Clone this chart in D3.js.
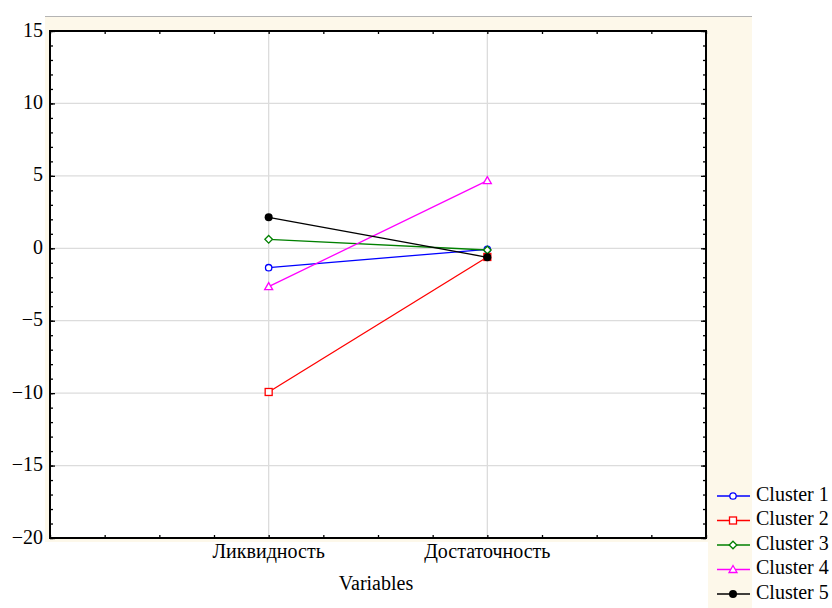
<!DOCTYPE html>
<html>
<head>
<meta charset="utf-8">
<script src="https://cdn.jsdelivr.net/npm/d3@7.9.0/dist/d3.min.js"></script>
<style>
  body { margin: 0; background: #fff; }
  svg { display: block; font-family: "Liberation Serif", "Times New Roman", serif; }
</style>
</head>
<body>
<svg id="chart" width="832" height="608"></svg>
<script>
// chart data
const variables = ['Ликвидность', 'Достаточность'];
const clusterNames = ['Cluster 1', 'Cluster 2', 'Cluster 3', 'Cluster 4', 'Cluster 5'];
const cluster1 = [-1.34, -0.07];
const cluster2 = [-9.92, -0.6];
const cluster3 = [0.62, -0.12];
const cluster4 = [-2.65, 4.67];
const cluster5 = [2.14, -0.62];
const yTicks = [-20, -15, -10, -5, 0, 5, 10, 15];

const series = [cluster1, cluster2, cluster3, cluster4, cluster5];
const colors = ['#0000ff', '#ff0000', '#008000', '#ff00ff', '#000000'];
const shapes = ['circle', 'square', 'diamond', 'triangle', 'dot'];

const svg = d3.select('#chart');
const plotL = 50, plotR = 706, plotT = 31, plotB = 538;

// cream panel behind the plot + legend column
svg.append('rect').attr('x', 45).attr('y', 17).attr('width', 707).attr('height', 525).attr('fill', '#fdf8ea');
svg.append('rect').attr('x', 708).attr('y', 17).attr('width', 44).attr('height', 591).attr('fill', '#fdf8ea');
svg.append('line').attr('x1', 45).attr('x2', 752).attr('y1', 16.5).attr('y2', 16.5)
  .attr('stroke', '#b4b4b4').attr('stroke-width', 1);
svg.append('rect').attr('x', plotL).attr('y', plotT).attr('width', plotR - plotL).attr('height', plotB - plotT).attr('fill', '#fff');

// scales: categories sit at 1 and 2 on a 0..3 axis
const x = d3.scaleLinear().domain([0, 3]).range([plotL, plotR]);
const y = d3.scaleLinear().domain([-20, 15]).range([plotB, plotT]);

// grid
const grid = svg.append('g').attr('stroke', '#dcdcdc').attr('stroke-width', 1.3);
grid.selectAll('.gy').data(yTicks.slice(1, -1)).join('line')
  .attr('x1', plotL).attr('x2', plotR).attr('y1', d => y(d)).attr('y2', d => y(d));
grid.selectAll('.gx').data([1, 2]).join('line')
  .attr('y1', plotT).attr('y2', plotB).attr('x1', d => x(d)).attr('x2', d => x(d));

// axes with inward ticks
const minorY = d3.range(-20, 16, 1);
const minorX = d3.range(0, 3.01, 0.25);

function styleAxis(g) {
  g.select('.domain').remove();
  g.selectAll('line').attr('stroke', '#000').attr('stroke-width', 1.3);
}

svg.append('g').attr('transform', `translate(${plotL},0)`)
  .call(d3.axisLeft(y).tickValues(minorY).tickSize(-3).tickFormat(''))
  .call(styleAxis);
svg.append('g').attr('transform', `translate(${plotR},0)`)
  .call(d3.axisRight(y).tickValues(minorY).tickSize(-3).tickFormat(''))
  .call(styleAxis);
svg.append('g').attr('transform', `translate(${plotL},0)`)
  .call(d3.axisLeft(y).tickValues(yTicks).tickSize(-5).tickPadding(7))
  .call(styleAxis)
  .call(g => g.attr('font-family', null))
  .call(g => g.selectAll('text').attr('font-size', 20).attr('fill', '#000').attr('dy', '0.25em'));
svg.append('g').attr('transform', `translate(${plotR},0)`)
  .call(d3.axisRight(y).tickValues(yTicks).tickSize(-5).tickFormat(''))
  .call(styleAxis);
svg.append('g').attr('transform', `translate(0,${plotT})`)
  .call(d3.axisTop(x).tickValues(minorX).tickSize(-3).tickFormat(''))
  .call(styleAxis);
svg.append('g').attr('transform', `translate(0,${plotB})`)
  .call(d3.axisBottom(x).tickValues(minorX).tickSize(-3).tickFormat(''))
  .call(styleAxis);

// category labels
svg.append('g').selectAll('text').data(variables).join('text')
  .attr('x', (d, i) => x(i + 1)).attr('y', 553)
  .attr('text-anchor', 'middle').attr('dominant-baseline', 'middle')
  .attr('font-size', 20).text(d => d);
svg.append('text').attr('x', (plotL + plotR) / 2 - 2).attr('y', 585)
  .attr('text-anchor', 'middle').attr('dominant-baseline', 'middle')
  .attr('font-size', 20).text('Variables');

// frame
svg.append('rect').attr('x', plotL).attr('y', plotT).attr('width', plotR - plotL).attr('height', plotB - plotT)
  .attr('fill', 'none').attr('stroke', '#000').attr('stroke-width', 2);

// markers
function marker(g, shape, color) {
  if (shape === 'circle') {
    g.append('circle').attr('r', 3.2).attr('fill', '#fff').attr('stroke', color).attr('stroke-width', 1.3);
  } else if (shape === 'square') {
    g.append('rect').attr('x', -3.5).attr('y', -3.5).attr('width', 7).attr('height', 7)
      .attr('fill', '#fff').attr('stroke', color).attr('stroke-width', 1.3);
  } else if (shape === 'diamond') {
    g.append('path').attr('d', 'M0,-3.8L3.8,0L0,3.8L-3.8,0Z')
      .attr('fill', '#fff').attr('stroke', color).attr('stroke-width', 1.3);
  } else if (shape === 'triangle') {
    g.append('path').attr('d', 'M0,-4L4,3L-4,3Z')
      .attr('fill', '#fff').attr('stroke', color).attr('stroke-width', 1.3);
  } else {
    g.append('circle').attr('r', 4).attr('fill', color);
  }
}

const line = d3.line().x((d, i) => x(i + 1)).y(d => y(d));
series.forEach((vals, k) => {
  const g = svg.append('g');
  g.append('path').datum(vals).attr('d', line)
    .attr('fill', 'none').attr('stroke', colors[k]).attr('stroke-width', 1.3);
  vals.forEach((v, i) => {
    const m = g.append('g').attr('transform', `translate(${x(i + 1)},${y(v)})`);
    marker(m, shapes[k], colors[k]);
  });
});

// legend
const legendY = d3.scalePoint().domain(clusterNames).range([496, 594]);
clusterNames.forEach((name, k) => {
  const ly = legendY(name);
  const g = svg.append('g').attr('transform', `translate(0,${ly})`);
  g.append('line').attr('x1', 717).attr('x2', 750).attr('stroke', colors[k]).attr('stroke-width', 1.3);
  const m = g.append('g').attr('transform', 'translate(733,0)');
  marker(m, shapes[k], colors[k]);
  g.append('text').attr('x', 756).attr('dominant-baseline', 'middle')
    .attr('font-size', 20).text(name);
});
</script>
</body>
</html>
